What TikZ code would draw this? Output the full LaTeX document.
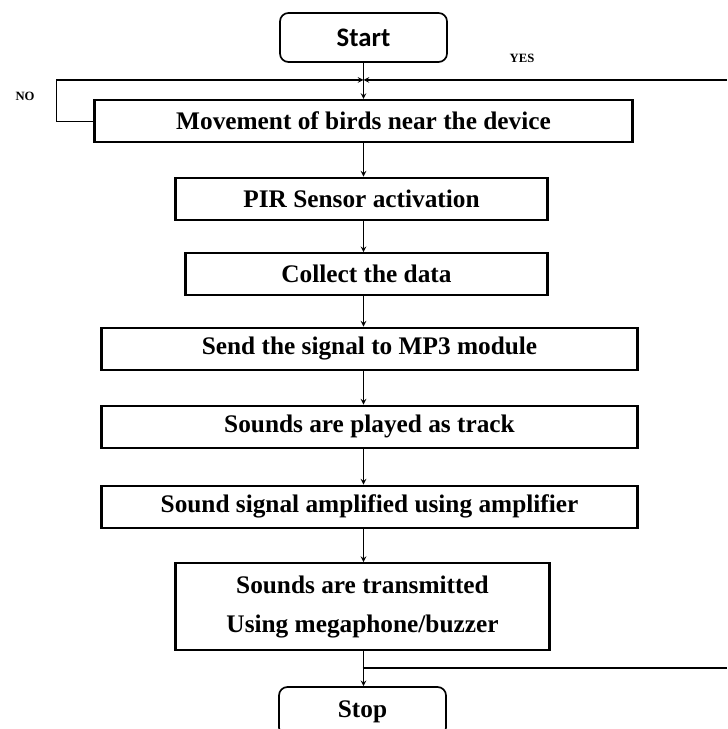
\documentclass[tikz,border=0pt]{standalone}
\usepackage{fontspec}
\setmainfont{Liberation Serif}
\newfontfamily\startfont{Carlito}

\begin{document}
\begin{tikzpicture}[node distance=1.9cm, >=stealth,
		every node/.style={font=\bfseries\fontsize{18}{21}\selectfont},
		box/.style={draw, line width=1.6pt, align=center, minimum height=1.05cm, inner sep=2pt},
		term/.style={draw, line width=1.2pt, rounded corners=6pt, minimum width=4.175cm, minimum height=1.225cm},
		tag/.style={font=\bfseries\fontsize{9}{11}\selectfont}]
	\useasboundingbox (0,0) rectangle (18.175,-18.225);
	\node[term, font=\startfont\bfseries\fontsize{19}{22}\selectfont] (start) at (9.0875,-0.9375) {Start};
	\node[box, below of=start, node distance=2.09cm, minimum width=13.45cm] (move) {Movement of birds near the device};
	\node[box, below of=move, node distance=1.94cm, minimum width=9.3cm, xshift=-0.05cm] (pir) {PIR Sensor activation};
	\node[box, below of=pir, node distance=1.89cm, minimum width=9.05cm, xshift=0.125cm] (collect) {Collect the data};
	\node[box, below of=collect, node distance=1.86cm, minimum width=13.4cm, xshift=0.075cm] (send) {Send the signal to MP3 module};
	\node[box, below of=send, node distance=1.95cm, minimum width=13.4cm] (play) {Sounds are played as track};
	\node[box, below of=play, node distance=2cm, minimum width=13.4cm] (amp) {Sound signal amplified using amplifier};
	\node[box, below of=amp, node distance=2.5cm, minimum width=9.35cm, minimum height=2.175cm, xshift=-0.175cm] (tx) {Sounds are transmitted\\[7pt]Using megaphone/buzzer};
	\node[term, below of=tx, node distance=2.62cm] (stop) {Stop};
	% loop back to the sensing step
	\coordinate (m) at (start.south |- 0,-2);
	\coordinate (yes) at (18.175,-2);
	\coordinate (br) at (tx.south |- 0,-16.7);
	\draw[->, thick] (start) -- (m |- move.north);
	\draw[->, thick] (move.west) -- ++(-0.925,0) |- (m);
	\draw[->, thick] (yes) -- (m);
	\node[tag] (yeslbl) at (13.05,-1.45) {YES};
	\node[tag] (nolbl) at (0.625,-2.4) {NO};
	% main chain
	\draw[->, thick] (move.south -| m) -- (m |- pir.north);
	\draw[->, thick] (pir.south -| m) -- (m |- collect.north);
	\draw[->, thick] (collect.south -| m) -- (m |- send.north);
	\draw[->, thick] (send.south -| m) -- (m |- play.north);
	\draw[->, thick] (play.south -| m) -- (m |- amp.north);
	\draw[->, thick] (amp.south -| m) -- (m |- tx.north);
	\draw[->, thick] (tx.south -| m) -- (m |- stop.north);
	\draw[thick] (br) -- (br -| yes);
\end{tikzpicture}
\end{document}
